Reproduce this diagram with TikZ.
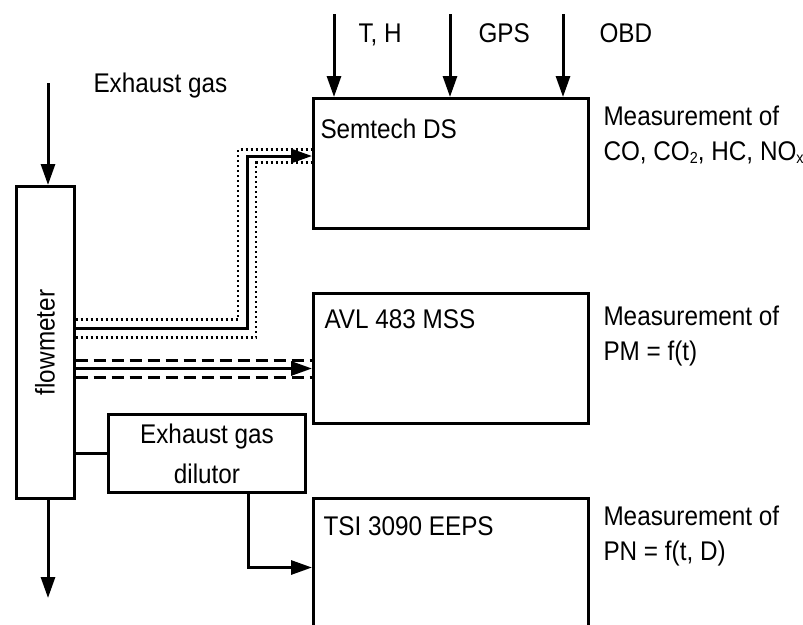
\documentclass[tikz,border=0pt]{standalone}
\usepackage{fontspec}
\setmainfont[FakeStretch=0.9]{Liberation Sans}
\usetikzlibrary{arrows.meta}
\newcommand{\lowsub}[1]{\raisebox{-3pt}{\fontsize{16}{16}\selectfont #1}}

\begin{document}
\begin{tikzpicture}[x=1pt,y=-1pt,line width=3pt,inner sep=0pt,font=\fontsize{27}{35}\selectfont,
  box/.style={draw,rectangle,anchor=north west},
  flowarr/.style={-{Triangle[length=21pt,width=14pt]}},
  dotline/.style={line width=2.5pt,dash pattern=on 2.5pt off 2.5pt},
  dashline/.style={line width=2.5pt,dash pattern=on 12pt off 6pt}]
\clip (0,0) rectangle (803,624);
% boxes
\node[box,minimum width=58pt,minimum height=312pt] (flow) at (14.5,185) {};
\node[rotate=90] (flowtxt) at (flow.center) {flowmeter};
\node[box,minimum width=275pt,minimum height=130pt] (sem) at (312,97) {};
\node[box,minimum width=275pt,minimum height=130pt] (avl) at (312,292) {};
\node[box,minimum width=275pt,minimum height=138pt] (tsi) at (312,497) {};
\node[box,minimum width=197pt,minimum height=78pt,align=center] (dil) at (107,413) {Exhaust gas\\[5pt]dilutor};
\node[anchor=base west] (semtxt) at (319,138) {Semtech DS};
\node[anchor=base west] (avltxt) at (323,328) {AVL 483 MSS};
\node[anchor=base west] (tsitxt) at (322,535) {TSI 3090 EEPS};
% labels
\node[anchor=base west] (extxt) at (92,92) {Exhaust gas};
\node[anchor=base west] (thtxt) at (357,42) {T, H};
\node[anchor=base west] (gpstxt) at (477,42) {GPS};
\node[anchor=base west] (obdtxt) at (598,42) {OBD};
\node[anchor=base west,align=left] (meas1) at (602,160) {Measurement of\\CO, CO\lowsub{2}, HC, NO\lowsub{x}};
\node[anchor=base west,align=left] (meas2) at (602,360) {Measurement of\\PM = f(t)};
\node[anchor=base west,align=left] (meas3) at (602,560) {Measurement of\\PN = f(t, D)};
% inputs
\coordinate (exin) at (48,83);\coordinate (exout) at (48,598);
\coordinate (thin) at (334,14);\coordinate (gpsin) at (450,14);\coordinate (obdin) at (563,14);
\draw[flowarr] (exin)--(exin |- flow.north);
\draw[flowarr] (exout |- flow.south)--(exout);
\draw[flowarr] (thin)--(thin |- sem.north);
\draw[flowarr] (gpsin)--(gpsin |- sem.north);
\draw[flowarr] (obdin)--(obdin |- sem.north);
% to Semtech
\coordinate (fup) at ([yshift=23pt]flow.east);\coordinate (fmid) at ([yshift=14pt]flow.east);\coordinate (flow1) at ([yshift=5pt]flow.east);
\coordinate (semup) at ([yshift=14pt]sem.west);\coordinate (semin) at ([yshift=7.5pt]sem.west);\coordinate (semlow) at ([yshift=1pt]sem.west);
\draw[dotline] (fup) -| ([xshift=-74pt]semup)--(semup);
\draw[flowarr] (fmid) -| ([xshift=-65pt]semin)--(semin);
\draw[dotline] (flow1) -| ([xshift=-56pt]semlow)--(semlow);
% to AVL
\coordinate (avlup) at ([yshift=-2pt]avl.west);\coordinate (avlin) at ([yshift=-10pt]avl.west);\coordinate (avllow) at ([yshift=-19pt]avl.west);
\draw[dashline] (flow.east |- avlup)--(avlup);
\draw[flowarr] (flow.east |- avlin)--(avlin);
\draw[dashline] (flow.east |- avllow)--(avllow);
% dilutor
\draw (flow.east |- dil.west)--(dil.west);
\draw[flowarr] ([xshift=41.5pt]dil.south) |- (tsi.west);
\end{tikzpicture}
\end{document}
